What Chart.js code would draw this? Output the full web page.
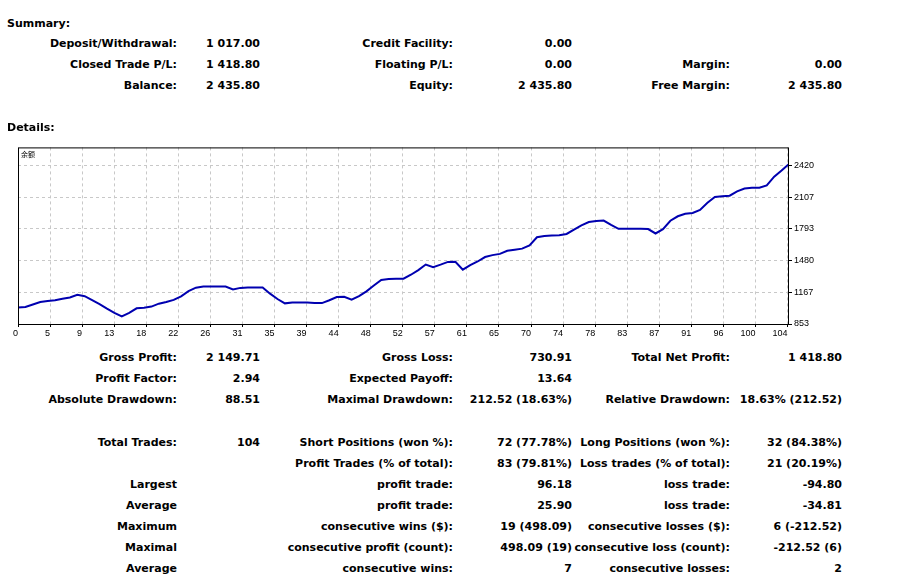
<!DOCTYPE html>
<html>
<head>
<meta charset="utf-8">
<script src="https://cdn.jsdelivr.net/npm/chart.js@4.4.1/dist/chart.umd.min.js"></script>
<style>
    body { margin: 0; background: #fff; width: 922px; height: 578px; overflow: hidden; position: relative; }
    .t { position: absolute; font: bold 11px "DejaVu Sans", sans-serif; color: #000; white-space: nowrap; line-height: 14px; }
    .r { text-align: right; width: 400px; }
    #grafico { position: absolute; left: 0; top: 140px; }
    #serie { position: absolute; left: 21px; top: 149px; font: 7px "Noto Sans CJK SC", sans-serif; color: #000; }
</style>
</head>
<body>
<canvas id="grafico" width="840" height="200"></canvas>
<span id="serie">余额</span>
<script>
// Curva de balance (105 puntos: depósito inicial + 104 operaciones)
const balance = [
    1017, 1022, 1046, 1071, 1081, 1087, 1102, 1115, 1141, 1128,
    1089, 1050, 1005, 963, 928.5, 963, 1008, 1014, 1025, 1054,
    1070, 1091, 1127, 1178, 1212, 1223, 1223, 1223, 1223, 1194,
    1210, 1213, 1213, 1213, 1153, 1100, 1057, 1066, 1066, 1066,
    1060, 1060, 1088, 1119, 1122, 1093, 1129, 1176, 1233, 1289,
    1299, 1301, 1301, 1340, 1386, 1441, 1415, 1440, 1467, 1468,
    1390, 1435, 1471, 1515, 1534, 1546, 1577, 1588, 1598, 1631,
    1711, 1724, 1729, 1731, 1743, 1787, 1829, 1861, 1872, 1876,
    1832, 1794, 1794, 1794, 1794, 1792, 1748, 1791, 1874, 1918,
    1942, 1951, 1980, 2051, 2109, 2117, 2122, 2165, 2192, 2200,
    2201, 2224, 2310, 2371, 2435.8
];

// Etiquetas de los ejes
const etiquetasX = ['0', '5', '9', '13', '18', '22', '26', '31', '35', '39', '44', '48', '52',
    '57', '61', '65', '70', '74', '78', '83', '87', '91', '96', '100', '104'];
const pasoX = 4.325; // las líneas de la grilla van cada 32 px
const ticksY = [853, 1167, 1480, 1793, 2107, 2420];
const maxY = 2599;

// Textos del resumen y detalles
const columnas = [177, 260, 453, 572, 730, 842];
const resumen = [
    ['Deposit/Withdrawal:', '1 017.00', 'Credit Facility:', '0.00', '', ''],
    ['Closed Trade P/L:', '1 418.80', 'Floating P/L:', '0.00', 'Margin:', '0.00'],
    ['Balance:', '2 435.80', 'Equity:', '2 435.80', 'Free Margin:', '2 435.80'],
];
const detalles = [
    ['Gross Profit:', '2 149.71', 'Gross Loss:', '730.91', 'Total Net Profit:', '1 418.80'],
    ['Profit Factor:', '2.94', 'Expected Payoff:', '13.64', '', ''],
    ['Absolute Drawdown:', '88.51', 'Maximal Drawdown:', '212.52 (18.63%)', 'Relative Drawdown:', '18.63% (212.52)'],
    null,
    ['Total Trades:', '104', 'Short Positions (won %):', '72 (77.78%)', 'Long Positions (won %):', '32 (84.38%)'],
    ['', '', 'Profit Trades (% of total):', '83 (79.81%)', 'Loss trades (% of total):', '21 (20.19%)'],
    ['Largest', '', 'profit trade:', '96.18', 'loss trade:', '-94.80'],
    ['Average', '', 'profit trade:', '25.90', 'loss trade:', '-34.81'],
    ['Maximum', '', 'consecutive wins ($):', '19 (498.09)', 'consecutive losses ($):', '6 (-212.52)'],
    ['Maximal', '', 'consecutive profit (count):', '498.09 (19)', 'consecutive loss (count):', '-212.52 (6)'],
    ['Average', '', 'consecutive wins:', '7', 'consecutive losses:', '2'],
];

function ponerTexto(texto, x, y, derecha) {
    const el = document.createElement('div');
    el.className = derecha ? 't r' : 't';
    el.textContent = texto;
    el.style.left = (derecha ? x - 400 : x) + 'px';
    el.style.top = (y - 6) + 'px';
    document.body.appendChild(el);
}

function ponerFilas(filas, y0) {
    filas.forEach((fila, i) => {
        if (!fila) return;
        fila.forEach((texto, c) => {
            if (texto) ponerTexto(texto, columnas[c], y0 + i * 21.05, true);
        });
    });
}

ponerTexto('Summary:', 7, 23, false);
ponerFilas(resumen, 43.3);
ponerTexto('Details:', 7, 127, false);
ponerFilas(detalles, 357.3);

// Marco negro alrededor del área del gráfico
const marco = {
    id: 'marco',
    afterDraw(chart) {
        const { ctx, chartArea: a } = chart;
        ctx.save();
        ctx.strokeStyle = '#000';
        ctx.lineWidth = 1;
        ctx.strokeRect(a.left + 0.5, a.top + 0.5, a.right - a.left - 1, a.bottom - a.top);
        ctx.restore();
    }
};

const fuenteEje = { family: '"Liberation Sans", Arial, sans-serif', size: 9 };

new Chart(document.getElementById('grafico').getContext('2d'), {
    type: 'line',
    data: {
        datasets: [{
            label: '余额',
            data: balance.map((v, i) => ({ x: i, y: v })),
            borderColor: '#0000b0',
            borderWidth: 2,
            pointRadius: 0,
            tension: 0,
            fill: false,
        }],
    },
    options: {
        responsive: false,
        animation: false,
        layout: { padding: { left: 18, top: 5, right: 0, bottom: 0 } },
        plugins: {
            legend: { display: false },
            tooltip: { enabled: false },
        },
        scales: {
            x: {
                type: 'linear',
                min: 0,
                max: 104,
                afterBuildTicks: (scale) => {
                    scale.ticks = etiquetasX.map((l, k) => ({ value: k * pasoX }));
                },
                afterFit: (scale) => { scale.height = 16; },
                ticks: {
                    autoSkip: false,
                    maxRotation: 0,
                    align: 'end',
                    padding: 1,
                    color: '#000',
                    font: fuenteEje,
                    callback: (value, index) => etiquetasX[index],
                },
                grid: { color: '#c8c8c8', tickLength: 3, tickColor: '#000' },
                border: { display: false, dash: [3, 3] },
            },
            y: {
                position: 'right',
                min: 853,
                max: maxY,
                afterBuildTicks: (scale) => {
                    scale.ticks = ticksY.map((v) => ({ value: v }));
                },
                afterFit: (scale) => { scale.width = 51; },
                ticks: {
                    padding: 2,
                    color: '#000',
                    font: fuenteEje,
                    callback: (value) => String(value),
                },
                grid: { color: '#c8c8c8', tickLength: 3, tickColor: '#000' },
                border: { display: false, dash: [3, 3] },
            },
        },
    },
    plugins: [marco],
});
</script>
</body>
</html>
